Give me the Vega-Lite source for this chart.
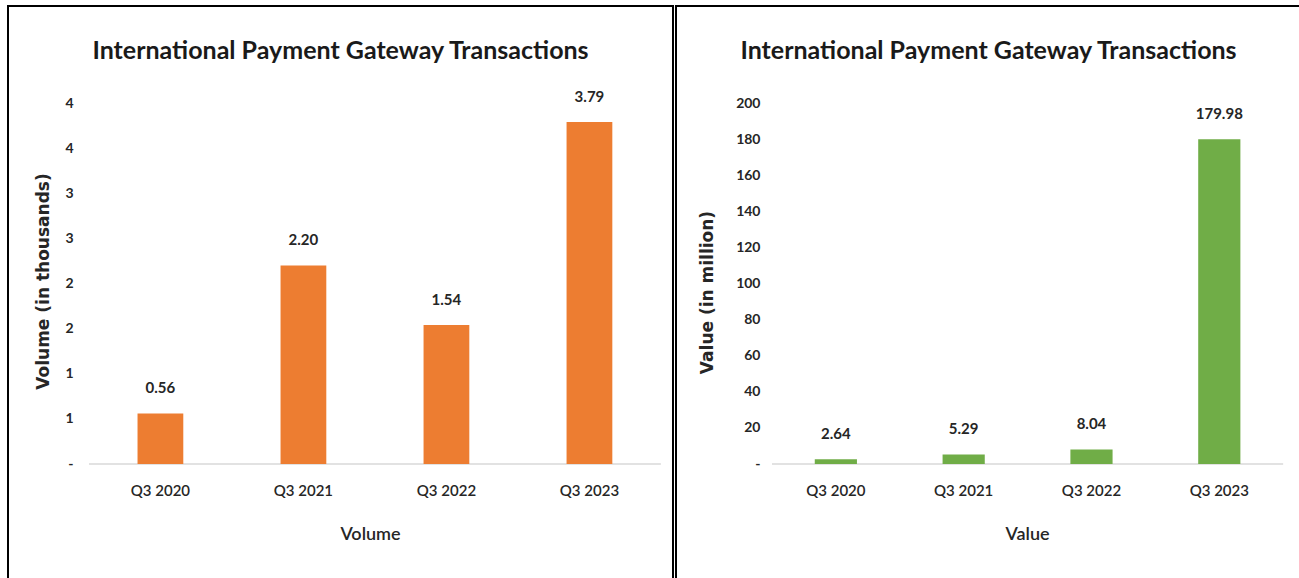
{
  "$schema": "https://vega.github.io/schema/vega-lite/v6.json",
  "background": "white",
  "padding": {"left": 7, "top": 5, "right": 0, "bottom": 0},
  "autosize": {"type": "pad"},
  "spacing": 1,
  "config": {
    "view": {"stroke": "#000000", "strokeWidth": 2},
    "font": "Lato",
    "title": {"font": "Lato", "fontSize": 25, "fontWeight": "bold", "color": "#1a1a1a", "anchor": "middle", "offset": -58},
    "axis": {"grid": false, "domain": false, "ticks": false, "labelColor": "#262626", "titleColor": "#262626", "labelFont": "Lato", "titleFont": "Lato"}
  },
  "hconcat": [
    {
      "width": 665,
      "height": 575,
      "title": "International Payment Gateway Transactions",
      "data": {"values": [
        {"quarter": "Q3 2020", "volume": 0.56},
        {"quarter": "Q3 2021", "volume": 2.20},
        {"quarter": "Q3 2022", "volume": 1.54},
        {"quarter": "Q3 2023", "volume": 3.79}
      ]},
      "layer": [
        {
          "data": {"values": [{"base": 0}]},
          "mark": {"type": "rule", "color": "#d9d9d9", "strokeWidth": 1.5},
          "encoding": {
            "x": {"datum": "Q3 2020", "type": "nominal", "bandPosition": -1.061},
            "x2": {"datum": "Q3 2023", "bandPosition": 2.061},
            "y": {"field": "base", "type": "quantitative"}
          }
        },
        {
          "mark": {"type": "bar", "color": "#ED7D31"},
          "encoding": {
            "x": {"field": "quarter", "type": "nominal", "sort": null,
              "scale": {"domain": ["Q3 2020", "Q3 2021", "Q3 2022", "Q3 2023"], "paddingInner": 0.68, "paddingOuter": 0.665, "align": 0.681},
              "axis": {"title": "Volume", "bandPosition": 0.5, "labelAngle": 0, "labelAlign": "center", "offset": -117, "labelPadding": 26, "labelFontSize": 15, "labelFontWeight": 600, "titleFontSize": 18, "titleFontWeight": 600, "titleX": 362, "titleY": 70, "titleBaseline": "middle"}},
            "y": {"field": "volume", "type": "quantitative",
              "scale": {"domain": [-1.2964, 5.0748], "nice": false, "zero": false},
              "axis": {"title": "Volume  (in thousands)", "values": [0, 0.5, 1, 1.5, 2, 2.5, 3, 3.5, 4], "labelExpr": "datum.value == 0 ? '-' : '' + ceil(datum.value)", "offset": -73, "labelPadding": 8, "labelFontSize": 14, "labelFontWeight": "bold", "titleFont": "DejaVu Sans", "titleFontSize": 17, "titleFontWeight": "bold", "titleY": 275, "titleX": -38, "titleBaseline": "middle"}},
            "y2": {"datum": 0}
          }
        },
        {
          "mark": {"type": "text", "dy": -25, "baseline": "middle", "fontSize": 15, "fontWeight": "bold", "color": "#262626"},
          "encoding": {
            "x": {"field": "quarter", "type": "nominal", "sort": null},
            "y": {"field": "volume", "type": "quantitative"},
            "text": {"field": "volume", "type": "quantitative", "format": ".2f"}
          }
        }
      ]
    },
    {
      "width": 625,
      "height": 575,
      "title": "International Payment Gateway Transactions",
      "data": {"values": [
        {"quarter": "Q3 2020", "value": 2.64},
        {"quarter": "Q3 2021", "value": 5.29},
        {"quarter": "Q3 2022", "value": 8.04},
        {"quarter": "Q3 2023", "value": 179.98}
      ]},
      "layer": [
        {
          "data": {"values": [{"base": 0}]},
          "mark": {"type": "rule", "color": "#d9d9d9", "strokeWidth": 1.5},
          "encoding": {
            "x": {"datum": "Q3 2020", "type": "nominal", "bandPosition": -1.014},
            "x2": {"datum": "Q3 2023", "bandPosition": 2.014},
            "y": {"field": "base", "type": "quantitative"}
          }
        },
        {
          "mark": {"type": "bar", "color": "#70AD47"},
          "encoding": {
            "x": {"field": "quarter", "type": "nominal", "sort": null,
              "scale": {"domain": ["Q3 2020", "Q3 2021", "Q3 2022", "Q3 2023"], "paddingInner": 0.67, "paddingOuter": 0.78, "align": 0.696},
              "axis": {"title": "Value", "bandPosition": 0.5, "labelAngle": 0, "labelAlign": "center", "offset": -117, "labelPadding": 26, "labelFontSize": 15, "labelFontWeight": 600, "titleFontSize": 18, "titleFontWeight": 600, "titleX": 351, "titleY": 70, "titleBaseline": "middle"}},
            "y": {"field": "value", "type": "quantitative",
              "scale": {"domain": [-64.82, 253.74], "nice": false, "zero": false},
              "axis": {"title": "Value  (in million)", "values": [0, 20, 40, 60, 80, 100, 120, 140, 160, 180, 200], "labelExpr": "datum.value == 0 ? '-' : datum.label", "offset": -92, "labelPadding": 8, "labelFontSize": 14, "labelFontWeight": "bold", "titleFont": "DejaVu Sans", "titleFontSize": 17, "titleFontWeight": "bold", "titleY": 286, "titleX": -61, "titleBaseline": "middle"}},
            "y2": {"datum": 0}
          }
        },
        {
          "mark": {"type": "text", "dy": -25, "baseline": "middle", "fontSize": 15, "fontWeight": "bold", "color": "#262626"},
          "encoding": {
            "x": {"field": "quarter", "type": "nominal", "sort": null},
            "y": {"field": "value", "type": "quantitative"},
            "text": {"field": "value", "type": "quantitative", "format": ".2f"}
          }
        }
      ]
    }
  ]
}
